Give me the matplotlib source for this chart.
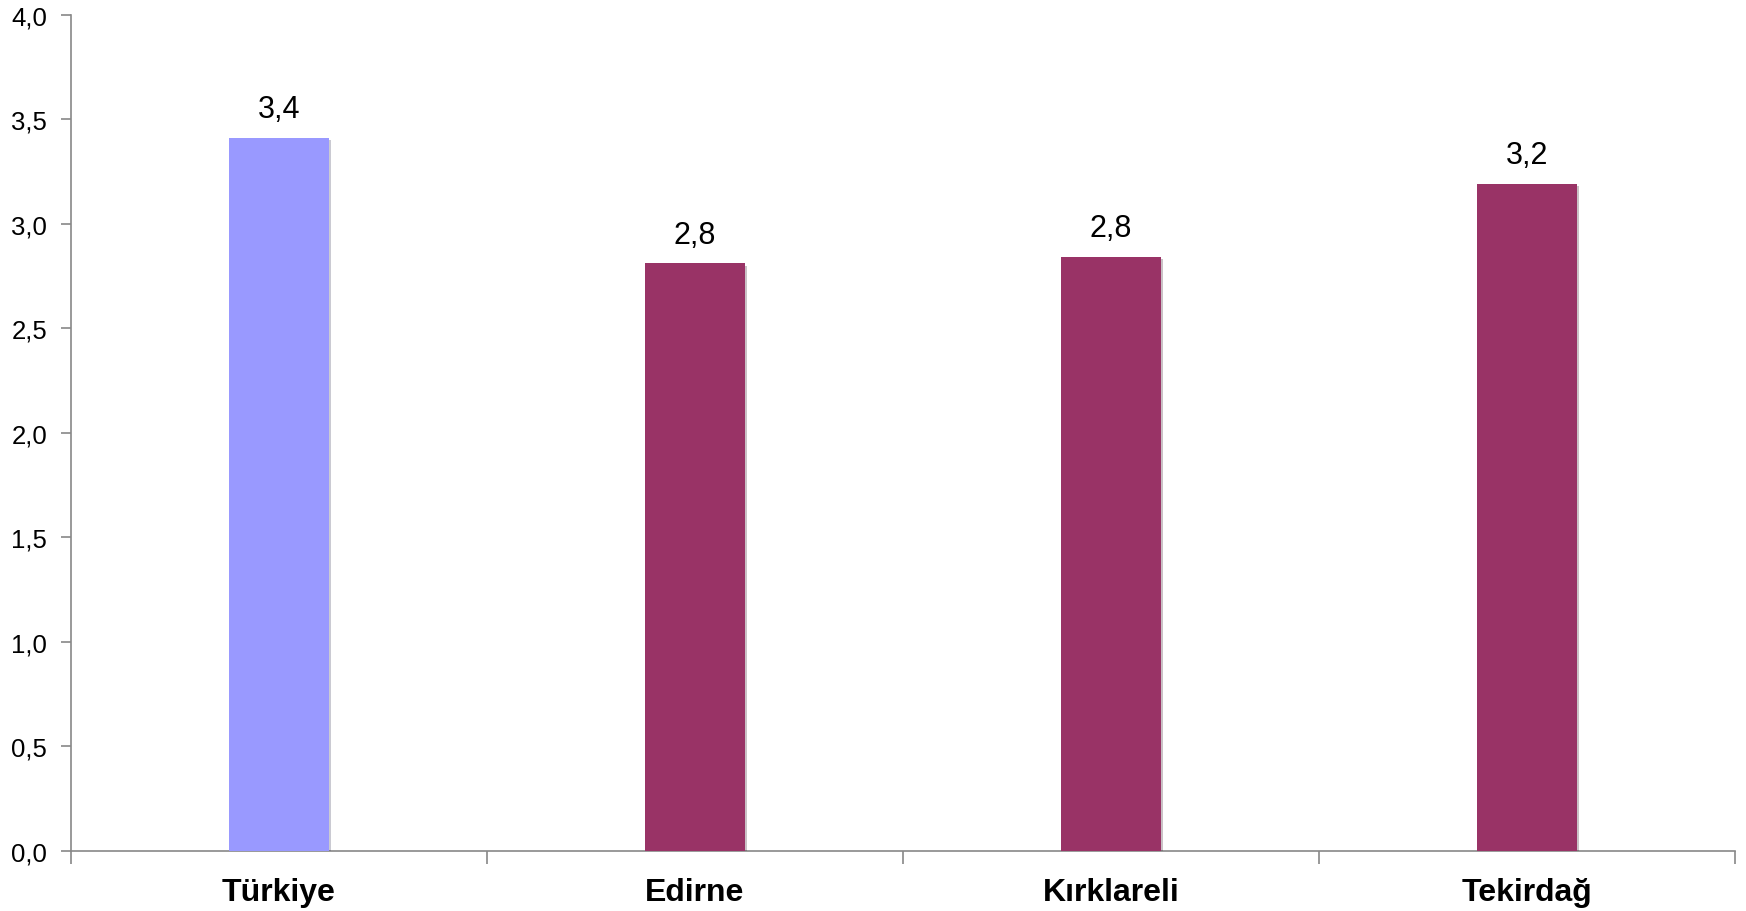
import matplotlib
matplotlib.use("Agg")
import matplotlib.pyplot as plt
import matplotlib.patheffects as pe

categories = ["Türkiye", "Edirne", "Kırklareli", "Tekirdağ"]
values = [3.41, 2.81, 2.84, 3.19]
labels = ["3,4", "2,8", "2,8", "3,2"]
colors = ["#9999FF", "#993366", "#993366", "#993366"]
yticks = [0.0, 0.5, 1.0, 1.5, 2.0, 2.5, 3.0, 3.5, 4.0]
ytick_labels = ["0,0", "0,5", "1,0", "1,5", "2,0", "2,5", "3,0", "3,5", "4,0"]

plt.rcParams["font.family"] = ["Liberation Sans", "DejaVu Sans"]

fig = plt.figure(figsize=(17.46, 9.12), dpi=100)
ax = fig.add_axes([0.0405, 0.0658, 0.9532, 0.917])

x = list(range(len(categories)))
bars = ax.bar(x, values, width=0.24, color=colors, zorder=3)
for b in bars:
    b.set_path_effects([pe.SimplePatchShadow(offset=(1.5, -1.5), alpha=0.25), pe.Normal()])

for xi, v, lab in zip(x, values, labels):
    ax.annotate(lab, (xi, v), xytext=(0, 10), textcoords="offset points",
                ha="center", va="bottom", fontsize=22, color="black")

ax.set_xlim(-0.5, len(categories) - 0.5)
ax.set_ylim(0, 4.0)
ax.set_yticks(yticks)
ax.set_yticklabels(ytick_labels, fontsize=18.5)

ax.set_xticks([i + 0.5 for i in range(len(categories) - 1)] + [-0.5, len(categories) - 0.5])
ax.set_xticklabels([""] * (len(categories) + 1))
ax.set_xticks(x, minor=True)
ax.set_xticklabels(categories, minor=True, fontsize=23, fontweight="bold")
ax.tick_params(axis="x", which="minor", length=0, pad=19)
ax.tick_params(axis="x", which="major", length=9, color="#888888", width=1.2)
ax.tick_params(axis="y", length=7, color="#888888", width=1.2, pad=10)

for s in ["top", "right"]:
    ax.spines[s].set_visible(False)
for s in ["left", "bottom"]:
    ax.spines[s].set_color("#888888")
    ax.spines[s].set_linewidth(1.2)

fig.savefig("out.png", dpi=100)
